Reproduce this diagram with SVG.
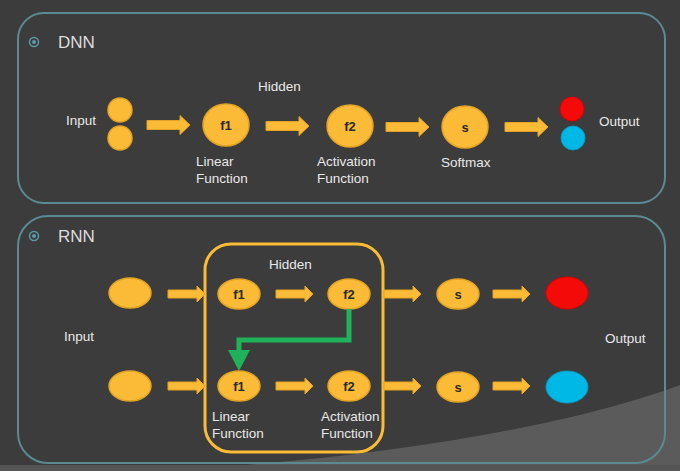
<svg xmlns="http://www.w3.org/2000/svg" width="680" height="471" viewBox="0 0 680 471">
<defs>
<style>
.panel{fill:none;stroke:#5b8a93;stroke-width:2}
.node{fill:#fbbb36;stroke:#e3a324;stroke-width:1.5}
.lbl{font-family:"Liberation Sans",Arial,sans-serif;font-size:13.5px;fill:#e8e8e8}
.title{font-family:"Liberation Sans",Arial,sans-serif;font-size:17px;fill:#dcdcdc}
.in{font-family:"Liberation Sans",Arial,sans-serif;font-size:13px;font-weight:bold;fill:#2a2a2a;text-anchor:middle}
.arr{fill:#fbbb36;stroke:#e3a324;stroke-width:1}
.bul{fill:none;stroke:#5b9aa6;stroke-width:1.5}
.buld{fill:#5b9aa6}
</style>
<path id="bigArrow" d="M0,-4.5 L33,-4.5 L33,-9.5 L43,0 L33,9.5 L33,4.5 L0,4.5 Z"/>
<path id="smArrow" d="M0,-4 L29,-4 L29,-8 L37,0 L29,8 L29,4 L0,4 Z"/>
</defs>
<rect width="680" height="471" fill="#3c3c3c"/>
<path d="M150,471 C350,462 560,430 680,385 L680,471 Z" fill="#5b5b5b"/>
<rect x="0" y="465" width="680" height="6" fill="#555"/>

<g id="dnn-panel">
<rect class="panel" x="18" y="13" width="647" height="190" rx="26"/>
<circle class="bul" cx="34" cy="42" r="4.5"/><circle class="buld" cx="34" cy="42" r="2"/>
<text class="title" x="58" y="48">DNN</text>
<text class="lbl" x="258" y="91">Hidden</text>
</g>
<g id="dnn-input">
<text class="lbl" x="66" y="125">Input</text>
<circle class="node" cx="120" cy="110" r="12"/>
<circle class="node" cx="120" cy="138" r="12"/>
</g>
<g id="dnn-f1">
<ellipse class="node" cx="226" cy="125" rx="23" ry="21"/>
<text class="in" x="226" y="130">f1</text>
<text class="lbl" x="196" y="166">Linear</text>
<text class="lbl" x="196" y="183">Function</text>
</g>
<g id="dnn-f2">
<ellipse class="node" cx="350" cy="126" rx="23" ry="21"/>
<text class="in" x="350" y="131">f2</text>
<text class="lbl" x="317" y="166">Activation</text>
<text class="lbl" x="317" y="183">Function</text>
</g>
<g id="dnn-s">
<ellipse class="node" cx="465" cy="127" rx="23" ry="21"/>
<text class="in" x="465" y="132">s</text>
<text class="lbl" x="441" y="167">Softmax</text>
</g>
<g id="dnn-output">
<circle cx="572" cy="109" r="12" fill="#f50a0a" stroke="#d00" stroke-width="1"/>
<circle cx="573" cy="138" r="12" fill="#00b8e6" stroke="#0a9ac0" stroke-width="1"/>
<text class="lbl" x="599" y="126">Output</text>
</g>

<g id="rnn-panel">
<rect class="panel" x="18" y="216" width="647" height="247" rx="30"/>
<circle class="bul" cx="34" cy="236" r="4.5"/><circle class="buld" cx="34" cy="236" r="2"/>
<text class="title" x="58" y="242">RNN</text>
<text class="lbl" x="64" y="341">Input</text>
<text class="lbl" x="605" y="343">Output</text>
</g>
<g id="rnn-hidden">
<rect x="205" y="244" width="178" height="208" rx="26" fill="none" stroke="#fbbb36" stroke-width="3"/>
<text class="lbl" x="269" y="269">Hidden</text>
</g>
<g id="rnn-in1"><ellipse class="node" cx="130" cy="293" rx="21" ry="15"/></g>
<g id="rnn-in2"><ellipse class="node" cx="130" cy="386" rx="21" ry="15"/></g>
<g id="rnn-f1a"><ellipse class="node" cx="239" cy="294" rx="21" ry="15"/><text class="in" x="239" y="299">f1</text></g>
<g id="rnn-f2a"><ellipse class="node" cx="349" cy="294" rx="21" ry="15"/><text class="in" x="349" y="299">f2</text></g>
<g id="rnn-sa"><ellipse class="node" cx="458" cy="294" rx="21" ry="15"/><text class="in" x="458" y="299">s</text></g>
<g id="rnn-outa"><ellipse cx="567" cy="293" rx="21" ry="16" fill="#f50a0a" stroke="#d00" stroke-width="1"/></g>
<g id="rnn-f1b"><ellipse class="node" cx="239" cy="386" rx="21" ry="15"/><text class="in" x="239" y="391">f1</text>
<text class="lbl" x="212" y="421">Linear</text><text class="lbl" x="212" y="438">Function</text></g>
<g id="rnn-f2b"><ellipse class="node" cx="349" cy="386" rx="21" ry="15"/><text class="in" x="349" y="391">f2</text>
<text class="lbl" x="321" y="421">Activation</text><text class="lbl" x="321" y="438">Function</text></g>
<g id="rnn-sb"><ellipse class="node" cx="458" cy="387" rx="21" ry="15"/><text class="in" x="458" y="392">s</text></g>
<g id="rnn-outb"><ellipse cx="567" cy="387" rx="21" ry="16" fill="#00b8e6" stroke="#0a9ac0" stroke-width="1"/></g>

<g id="connectors">
<use href="#bigArrow" class="arr" x="147" y="125"/>
<use href="#bigArrow" class="arr" x="266" y="126"/>
<use href="#bigArrow" class="arr" x="386" y="127"/>
<use href="#bigArrow" class="arr" x="505" y="127"/>
<use href="#smArrow" class="arr" x="168" y="294"/>
<use href="#smArrow" class="arr" x="276" y="294"/>
<use href="#smArrow" class="arr" x="384" y="294"/>
<use href="#smArrow" class="arr" x="493" y="294"/>
<use href="#smArrow" class="arr" x="168" y="386"/>
<use href="#smArrow" class="arr" x="276" y="386"/>
<use href="#smArrow" class="arr" x="384" y="386"/>
<use href="#smArrow" class="arr" x="493" y="386"/>
<path d="M349,309 L349,340 L239,340 L239,352" fill="none" stroke="#1fb25a" stroke-width="5"/>
<path d="M228,350 L250,350 L239,371 Z" fill="#1fb25a"/>
</g>
</svg>
